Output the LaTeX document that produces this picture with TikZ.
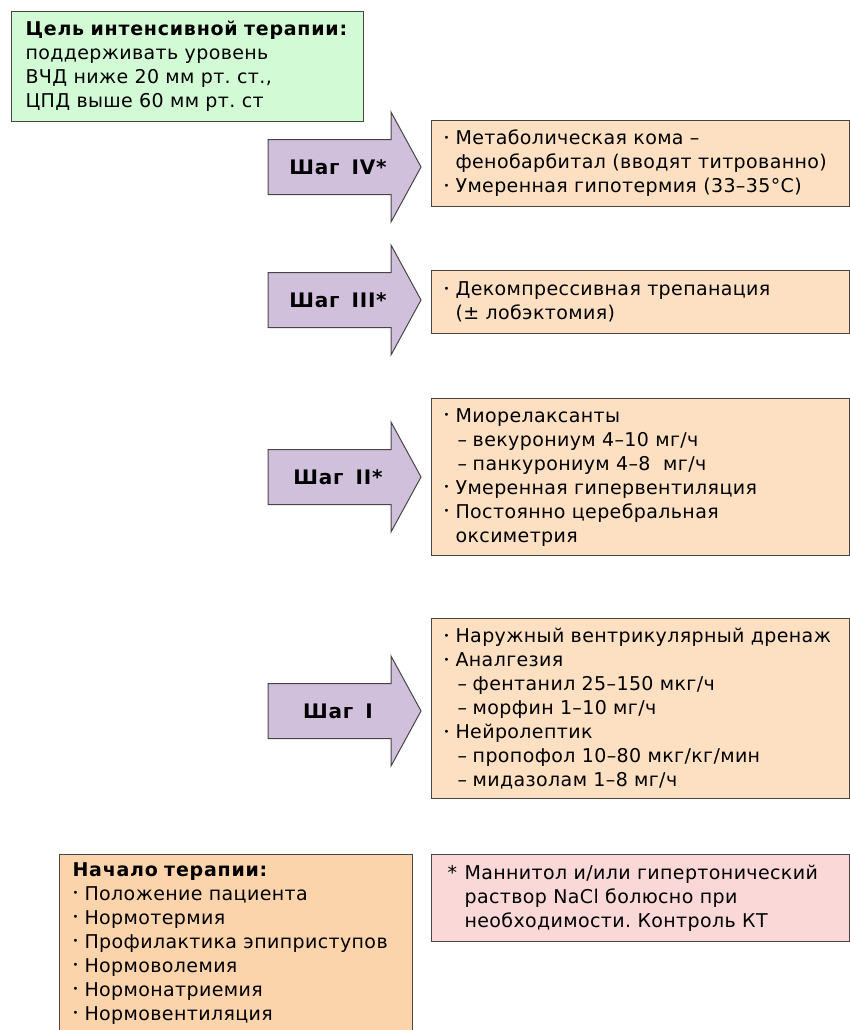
\documentclass[tikz,border=0pt]{standalone}
\usepackage{fontspec}
\setmainfont{DejaVu Sans}[LetterSpace=2,BoldFeatures={LetterSpace=4}]
\frenchspacing
\definecolor{goalgreen}{RGB}{210,251,213}
\definecolor{stepviolet}{RGB}{209,192,219}
\definecolor{steppeach}{RGB}{253,224,194}
\definecolor{startpeach}{RGB}{252,212,172}
\definecolor{notepink}{RGB}{250,216,216}
\definecolor{edgegray}{RGB}{70,70,70}
\newcommand{\bl}{\makebox[12pt][l]{\raisebox{0.18em}{\fontsize{10}{10}\selectfont•}}}
\newcommand{\ind}{\hspace*{12pt}}
\newcommand{\sbi}{\hspace*{14pt}–\hspace{0.3em}}
\begin{document}
\begin{tikzpicture}[x=1pt,y=-1pt,
  txt/.style={font=\fontsize{19}{24}\selectfont},
  infobox/.style={txt,draw=edgegray,line width=1.1pt,anchor=north west,align=left,inner xsep=12pt,inner ysep=0pt},
  arrowshape/.style={draw=edgegray,line width=1pt,fill=stepviolet,line join=miter},
  steplabel/.style={font=\fontsize{20}{22}\selectfont\bfseries,inner sep=0pt}]
\useasboundingbox (0,0) rectangle (850,1030);

% goal
\node[infobox,fill=goalgreen,inner xsep=14pt,text width=324pt,minimum height=110pt] (goal) at (11,11)
 {\mbox{\textbf{Цель интенсивной терапии:}}\\поддерживать уровень\\ВЧД ниже 20 мм рт. ст.,\\ЦПД выше 60 мм рт. ст};

% arrows
\newcommand{\steparrow}[1]{%
  \draw[arrowshape] (268,{#1-27.5}) -- (391,{#1-27.5}) -- (391,{#1-55}) -- (421,#1) -- (391,{#1+55}) -- (391,{#1+27.5}) -- (268,{#1+27.5}) -- cycle;}
\steparrow{167}
\node[steplabel] (s4) at (338,167) {Шаг\hspace{0.6em}IV*};
\steparrow{300}
\node[steplabel] (s3) at (338,300) {Шаг\hspace{0.6em}III*};
\steparrow{477}
\node[steplabel] (s2) at (338,477) {Шаг\hspace{0.6em}II*};
\steparrow{711}
\node[steplabel] (s1) at (338,711) {Шаг\hspace{0.6em}I};

% step boxes
\node[infobox,fill=steppeach,text width=394pt,minimum height=86pt] (b4) at (431,120)
 {\bl Метаболическая кома –\\\ind фенобарбитал (вводят титрованно)\\\bl Умеренная гипотермия (33–35°C)};
\node[infobox,fill=steppeach,text width=394pt,minimum height=63pt] (b3) at (431,270)
 {\bl Декомпрессивная трепанация\\\ind (± лобэктомия)};
\node[infobox,fill=steppeach,text width=394pt,minimum height=157pt] (b2) at (431,398)
 {\bl Миорелаксанты\\\sbi векурониум 4–10 мг/ч\\\sbi панкурониум 4–8~~мг/ч\\\bl Умеренная гипервентиляция\\\bl Постоянно церебральная\\\ind оксиметрия};
\node[infobox,fill=steppeach,text width=394pt,minimum height=180pt] (b1) at (431,618)
 {\bl Наружный вентрикулярный дренаж\\\bl Аналгезия\\\sbi фентанил 25–150 мкг/ч\\\sbi морфин 1–10 мг/ч\\\bl Нейролептик\\\sbi пропофол 10–80 мкг/кг/мин\\\sbi мидазолам 1–8 мг/ч};

% start
\node[infobox,fill=startpeach,inner xsep=13pt,inner ysep=8pt,text width=327pt] (start) at (59,854)
 {\textbf{Начало терапии:}\\\bl Положение пациента\\\bl Нормотермия\\\bl Профилактика эпиприступов\\\bl Нормоволемия\\\bl Нормонатриемия\\\bl Нормовентиляция};

% note
\node[infobox,fill=notepink,inner xsep=16pt,text width=386pt,minimum height=87pt] (note) at (431,854)
 {\makebox[17pt][l]{*}Маннитол и/или гипертонический\\\hspace*{17pt}раствор NaCl болюсно при\\\hspace*{17pt}необходимости. Контроль КТ};
\end{tikzpicture}
\end{document}
